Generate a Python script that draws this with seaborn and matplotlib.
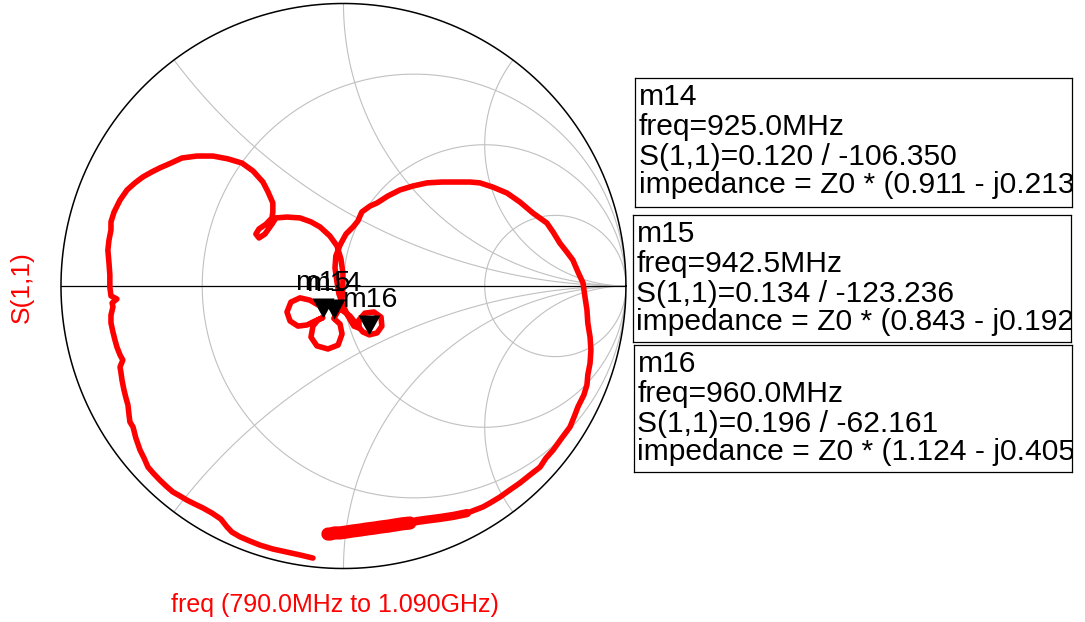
import numpy as np
import pandas as pd
import seaborn as sns
import matplotlib
matplotlib.use("Agg")
import matplotlib.pyplot as plt

gamma_re = [
    -0.108, -0.154, -0.200, -0.250, -0.296, -0.331, -0.366, -0.395, -0.412, -0.434,
    -0.465, -0.497, -0.526, -0.554, -0.579, -0.604, -0.628, -0.650, -0.671, -0.692,
    -0.706, -0.720, -0.735, -0.745, -0.756, -0.759, -0.763, -0.770, -0.777, -0.784,
    -0.788, -0.791, -0.781, -0.791, -0.802, -0.809, -0.816, -0.823, -0.823, -0.816,
    -0.819, -0.802, -0.823, -0.827, -0.827, -0.830, -0.834, -0.830, -0.823, -0.823,
    -0.812, -0.791, -0.766, -0.738, -0.710, -0.678, -0.650, -0.611, -0.572, -0.519,
    -0.462, -0.409, -0.359, -0.320, -0.285, -0.267, -0.250, -0.250, -0.253, -0.274,
    -0.299, -0.310, -0.299, -0.278, -0.253, -0.239, -0.200, -0.154, -0.115, -0.083,
    -0.048, -0.023, -0.009, -0.002, -0.002, -0.005, -0.019, -0.034, -0.012, -0.005,
    -0.019, -0.055, -0.094, -0.115, -0.108, -0.090, -0.073, -0.101, -0.129, -0.161,
    -0.189, -0.200, -0.186, -0.154, -0.119, -0.090, -0.055, -0.012, 0.023, 0.048,
    0.069, 0.092, 0.119, 0.136, 0.133, 0.108, 0.076, 0.055, 0.055, 0.037,
    0.016, -0.002, -0.016, -0.023, -0.030, -0.027, -0.012, 0.009, 0.034, 0.051,
    0.065, 0.094, 0.119, 0.158, 0.200, 0.246, 0.296, 0.349, 0.402, 0.448,
    0.483, 0.529, 0.579, 0.625, 0.671, 0.720, 0.742, 0.766, 0.791, 0.812,
    0.830, 0.848, 0.855, 0.862, 0.865, 0.873, 0.876, 0.873, 0.865, 0.862,
    0.851, 0.830, 0.819, 0.802, 0.773, 0.742, 0.717, 0.696, 0.660, 0.625,
    0.589, 0.554, 0.519, 0.494, 0.465, 0.437, 0.388, 0.342, 0.288, 0.260,
    0.235, 0.207, 0.182, 0.158, 0.133, 0.108, 0.083, 0.058, 0.034, 0.009,
    -0.012, -0.030, -0.048, -0.055,
]
gamma_im = [
    -0.963, -0.952, -0.942, -0.931, -0.917, -0.903, -0.888, -0.871, -0.853, -0.825,
    -0.804, -0.786, -0.772, -0.758, -0.743, -0.729, -0.708, -0.687, -0.665, -0.641,
    -0.609, -0.581, -0.538, -0.499, -0.481, -0.457, -0.421, -0.396, -0.368, -0.333,
    -0.304, -0.287, -0.262, -0.244, -0.216, -0.191, -0.163, -0.131, -0.103, -0.074,
    -0.060, -0.046, -0.035, -0.004, 0.039, 0.081, 0.127, 0.163, 0.198, 0.227,
    0.262, 0.304, 0.340, 0.365, 0.386, 0.404, 0.418, 0.435, 0.453, 0.460,
    0.460, 0.450, 0.435, 0.407, 0.368, 0.333, 0.294, 0.262, 0.241, 0.219,
    0.202, 0.184, 0.170, 0.184, 0.219, 0.241, 0.244, 0.241, 0.227, 0.209,
    0.177, 0.142, 0.096, 0.046, -0.004, -0.046, -0.088, -0.115, -0.135, -0.170,
    -0.209, -0.223, -0.212, -0.181, -0.142, -0.120, -0.112, -0.124, -0.138, -0.142,
    -0.124, -0.092, -0.057, -0.042, -0.050, -0.067, -0.071, -0.081, -0.106, -0.138,
    -0.163, -0.173, -0.166, -0.142, -0.110, -0.092, -0.096, -0.120, -0.149, -0.142,
    -0.106, -0.067, -0.028, 0.014, 0.064, 0.106, 0.145, 0.184, 0.209, 0.230,
    0.262, 0.283, 0.294, 0.319, 0.340, 0.354, 0.365, 0.368, 0.368, 0.368,
    0.365, 0.350, 0.329, 0.297, 0.258, 0.223, 0.191, 0.152, 0.120, 0.092,
    0.050, 0.011, -0.039, -0.085, -0.131, -0.181, -0.227, -0.273, -0.315, -0.350,
    -0.386, -0.428, -0.457, -0.499, -0.538, -0.581, -0.609, -0.641, -0.669, -0.697,
    -0.722, -0.747, -0.768, -0.782, -0.793, -0.804, -0.814, -0.821, -0.828, -0.832,
    -0.839, -0.842, -0.846, -0.850, -0.853, -0.857, -0.860, -0.864, -0.867, -0.871,
    -0.874, -0.874, -0.878, -0.878,
]
# the measured trace gets noisy (thick band) towards the high-frequency end
noisy_light = 175
noisy_heavy = 180

# markers
marker_names = ["m14", "m15", "m16"]
marker_freq = ["925.0MHz", "942.5MHz", "960.0MHz"]
marker_mag = [0.120, 0.134, 0.196]
marker_ang = [-106.350, -123.236, -62.161]
marker_z = ["0.911 - j0.213)", "0.843 - j0.192)", "1.124 - j0.405)"]

# smith chart grid
r_values = [1 / 3, 1, 3]
x_values = [0.5, 1, 2]

sns.set_theme(style="white")
plt.rcParams["font.family"] = ["Liberation Sans", "DejaVu Sans"]

fig = plt.figure(figsize=(10.85, 6.22), dpi=100)
ax = fig.add_axes([0.0562, 0.0860, 0.5207, 0.9084])
ax.set_xlim(-1, 1)
ax.set_ylim(-1, 1)
ax.axis("off")

grid_kw = dict(color="#c0c0c0", lw=0.8, zorder=1)
t = np.linspace(0, 2 * np.pi, 500)
for r in r_values:
    c, rad = r / (1 + r), 1 / (1 + r)
    ax.plot(c + rad * np.cos(t), rad * np.sin(t), **grid_kw)
rr = np.concatenate([[0], np.logspace(-3, 4, 800)])
for x in x_values:
    for sgn in (1, -1):
        z = rr + 1j * sgn * x
        g = (z - 1) / (z + 1)
        ax.plot(g.real, g.imag, **grid_kw)

ax.plot(np.cos(t), np.sin(t), color="black", lw=1.1, clip_on=False, zorder=2)
ax.plot([-1, 1], [0, 0], color="black", lw=0.9, zorder=2)

trace = pd.DataFrame({"re": gamma_re, "im": gamma_im})
sns.lineplot(data=trace, x="re", y="im", sort=False, estimator=None,
             color="red", lw=4.0, ax=ax, zorder=3)
sns.lineplot(data=trace.iloc[noisy_light:], x="re", y="im", sort=False,
             estimator=None, color="red", lw=6.0, ax=ax, zorder=3,
             solid_capstyle="round")
sns.lineplot(data=trace.iloc[noisy_heavy:], x="re", y="im", sort=False,
             estimator=None, color="red", lw=9.5, ax=ax, zorder=3,
             solid_capstyle="round")

mk = pd.DataFrame({
    "name": marker_names,
    "re": [m * np.cos(np.radians(a)) for m, a in zip(marker_mag, marker_ang)],
    "im": [m * np.sin(np.radians(a)) for m, a in zip(marker_mag, marker_ang)],
})
tri = [(-0.55, 1.0), (0.55, 1.0), (0.0, 0.0), (-0.55, 1.0)]
sns.scatterplot(data=mk, x="re", y="im", marker=tri, s=830, color="black",
                linewidth=0, ax=ax, zorder=5, legend=False)
for _, row in mk.iterrows():
    ax.annotate(row["name"], (row["re"], row["im"]), xytext=(0, 19.8),
                textcoords="offset points", ha="center", va="baseline",
                fontsize=20.5, color="black", zorder=6)

fig.text(0.0203, 0.5386, "S(1,1)", rotation=90, color="red", fontsize=19,
         ha="center", va="center")
fig.text(0.3088, 0.0273, "freq (790.0MHz to 1.090GHz)", color="red",
         fontsize=18, ha="center", va="center")

# marker readout boxes
boxes = [
    [0.5853, 0.6672, 0.4028, 0.2074],
    [0.5834, 0.4502, 0.4037, 0.2042],
    [0.5843, 0.2412, 0.4037, 0.2042],
]
line_off = [27.5, 57.0, 87.0, 115.0]
for i, rect in enumerate(boxes):
    bx = fig.add_axes(rect)
    bx.set_xticks([])
    bx.set_yticks([])
    for sp in bx.spines.values():
        sp.set_color("black")
        sp.set_linewidth(0.9)
    hpx = rect[3] * 622
    lines = [
        marker_names[i],
        "freq=" + marker_freq[i],
        "S(1,1)=%.3f / %.3f" % (marker_mag[i], marker_ang[i]),
        "impedance = Z0 * (" + marker_z[i],
    ]
    for off, s in zip(line_off, lines):
        txt = bx.text(0.008, 1 - off / hpx, s, transform=bx.transAxes,
                      fontsize=21.6, ha="left", va="baseline", color="black",
                      clip_on=True)
        txt.set_clip_box(bx.bbox)

fig.savefig("out.png", dpi=100)
